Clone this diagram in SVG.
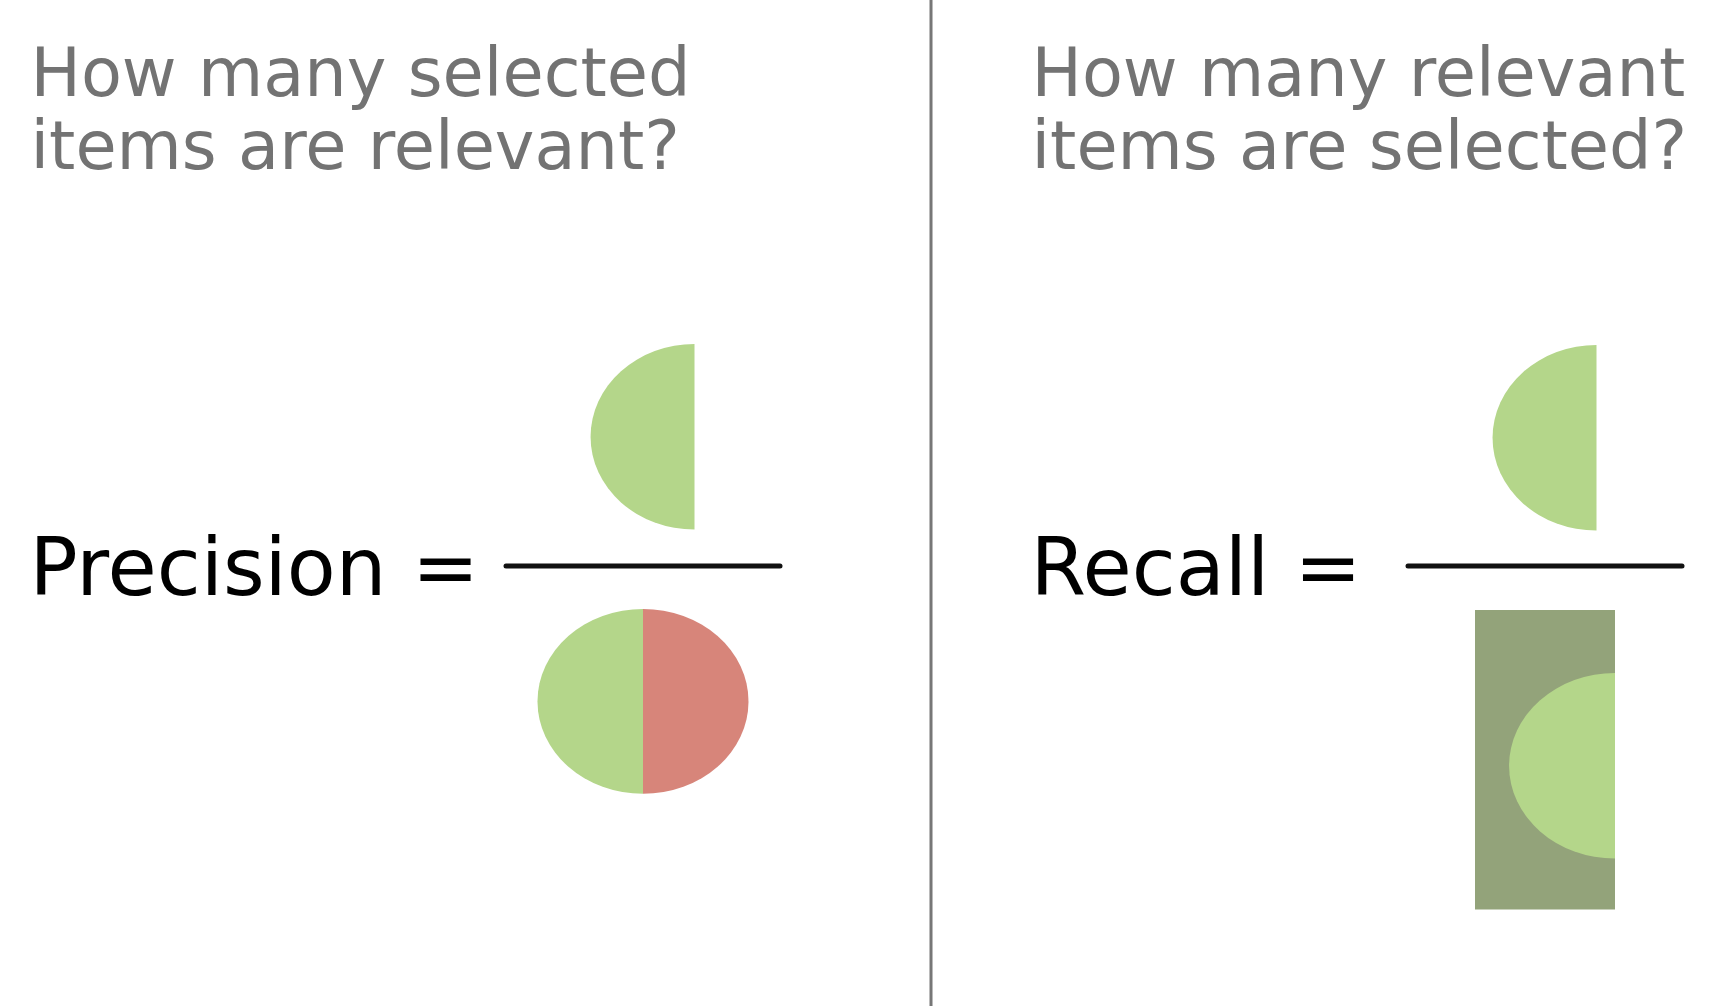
<svg xmlns="http://www.w3.org/2000/svg" width="1712" height="1006" viewBox="0 0 1712 1006">
<style>
.q{font-family:"DejaVu Sans",sans-serif;font-size:67px;fill:#737373}
.f{font-family:"DejaVu Sans",sans-serif;font-size:80px;fill:#000}
.bar{stroke:#111;stroke-width:5;stroke-linecap:round}
.g{fill:#b4d68a}
.r{fill:#d7857a}
.d{fill:#93a37a}
</style>
<rect width="1712" height="1006" fill="#fff"/>
<g id="connectors">
<line x1="931" y1="0" x2="931" y2="1006" stroke="#777" stroke-width="3"/>
</g>
<g id="precision-question">
<text class="q" x="30.5" y="96">How many selected</text>
<text class="q" x="30.5" y="169">items are relevant?</text>
</g>
<g id="recall-question">
<text class="q" x="1031.5" y="96">How many relevant</text>
<text class="q" x="1031.5" y="169">items are selected?</text>
</g>
<g id="precision">
<text class="f" x="29.5" y="595">Precision =</text>
<line class="bar" x1="506" y1="566" x2="780" y2="566"/>
<path class="g" d="M694.5,344 A104,92.8 0 0 0 694.5,529.6 Z"/>
<path class="g" d="M643,609 A105.5,92.4 0 0 0 643,793.8 Z"/>
<path class="r" d="M643,609 A105.5,92.4 0 0 1 643,793.8 Z"/>
</g>
<g id="recall">
<text class="f" x="1030.5" y="595">Recall =</text>
<line class="bar" x1="1408" y1="566" x2="1682" y2="566"/>
<path class="g" d="M1596.5,345 A104,92.8 0 0 0 1596.5,530.6 Z"/>
<rect class="d" x="1475" y="610" width="140" height="299.5"/>
<path class="g" d="M1615,673 A106,92.8 0 0 0 1615,858.6 Z"/>
</g>
</svg>
